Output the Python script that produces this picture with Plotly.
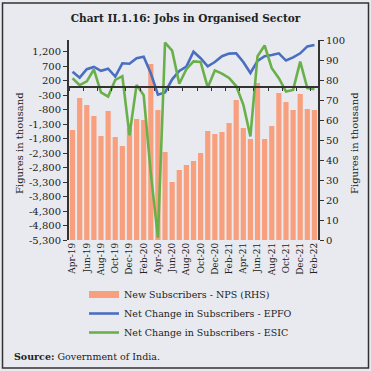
import plotly.graph_objects as go

months = ["Apr-19","May-19","Jun-19","Jul-19","Aug-19","Sep-19","Oct-19","Nov-19","Dec-19",
          "Jan-20","Feb-20","Mar-20","Apr-20","May-20","Jun-20","Jul-20","Aug-20","Sep-20",
          "Oct-20","Nov-20","Dec-20","Jan-21","Feb-21","Mar-21","Apr-21","May-21","Jun-21",
          "Jul-21","Aug-21","Sep-21","Oct-21","Nov-21","Dec-21","Jan-22","Feb-22"]

nps = [55, 71, 67.5, 62, 52, 64.5, 51.5, 47, 56, 60.5, 60, 88, 65, 44, 29, 35, 37.5, 39.5,
       43.5, 54.5, 53, 54, 58.5, 70, 56, 50.5, 78.5, 50.5, 57, 73.5, 69, 65, 73, 65.5, 65]

epfo = [517, 310, 600, 680, 545, 620, 345, 806, 790, 979, 1030, 460, -280, -200, 250, 540,
        690, 1206, 979, 700, 850, 1050, 1140, 1150, 850, 470, 890, 1050, 1092, 1150, 900,
        1010, 1150, 1390, 1437]

esic = [289, 50, 180, 590, -200, -345, 231, 360, -1680, 59, -300, -3000, -5220, 1520, 1240,
        100, 600, 870, 850, -30, 560, 450, 300, 20, -620, -1720, 1050, 1420, 634, 289, -170,
        -114, 862, -55, -90]

left_ticks = list(range(-5300, 1201, 500))
left_ticktext = [f"{v:,}" for v in left_ticks]
right_ticks = list(range(0, 101, 10))
left_range = [-5300, 1610]
right_range = [0, 100]

FONT = "DejaVu Serif"
BG = "#E8EAEF"
BAR = "#F8A07E"
BLUE = "#4A6FC0"
GREEN = "#6AB04A"
AX = "#333333"
TXT = "#222222"

PL, PR, PT, PB = 69.0, 318.0, 40.0, 240.0
def px_x(px):
    return (px - PL) / (PR - PL)
def px_y(py):
    return (PB - py) / (PB - PT)

zero_frac = (0 - left_range[0]) / (left_range[1] - left_range[0])

fig = go.Figure()
fig.add_trace(go.Bar(x=months, y=nps, marker=dict(color=BAR, line=dict(width=0)),
                     name="New Subscribers - NPS (RHS)", showlegend=False,
                     xaxis="x", yaxis="y"))
fig.add_trace(go.Scatter(x=[None], y=[None], mode="lines", line=dict(color=BAR, width=7),
                         name="New Subscribers - NPS (RHS)", legendgroup="a",
                         xaxis="x2", yaxis="y2"))
fig.add_trace(go.Scatter(x=months, y=epfo, mode="lines", line=dict(color=BLUE, width=2.6),
                         name="Net Change in Subscribers - EPFO", legendgroup="b",
                         xaxis="x2", yaxis="y2"))
fig.add_trace(go.Scatter(x=months, y=esic, mode="lines", line=dict(color=GREEN, width=2.6),
                         name="Net Change in Subscribers - ESIC", legendgroup="c",
                         xaxis="x2", yaxis="y2"))

fig.update_layout(
    width=371, height=371,
    margin=dict(l=PL, r=371 - PR, t=PT, b=371 - PB),
    paper_bgcolor=BG, plot_bgcolor=BG,
    font=dict(family=FONT, size=10, color=TXT),
    bargap=0.27,
    showlegend=True,
    title=dict(text="<b>Chart II.1.16: Jobs in Organised Sector</b>",
               font=dict(family=FONT, size=10.5, color=TXT),
               x=0.5, xref="container", xanchor="center",
               y=1 - 18 / 371, yref="container", yanchor="middle"),
    xaxis=dict(type="category", showline=False, ticks="", showgrid=False,
               tickangle=-90, dtick=2, tick0=0,
               tickfont=dict(family=FONT, size=9, color=TXT),
               range=[-0.5, len(months) - 0.5]),
    xaxis2=dict(type="category", overlaying="x", anchor="free", position=zero_frac,
                showline=True, linecolor=AX, linewidth=2, ticks="outside", ticklen=3,
                tickcolor=AX, tickwidth=1, tickson="boundaries", dtick=2, tick0=0,
                showticklabels=False, showgrid=False, matches="x",
                range=[-0.5, len(months) - 0.5]),
    yaxis=dict(side="right", range=right_range, tickvals=right_ticks,
               showline=True, linecolor=AX, linewidth=2, ticks="outside", ticklen=4,
               tickcolor=AX, showgrid=False, zeroline=False,
               tickfont=dict(family=FONT, size=10, color=TXT)),
    yaxis2=dict(side="left", overlaying="y", anchor="x", range=left_range,
                tickvals=left_ticks, ticktext=left_ticktext,
                showline=True, linecolor=AX, linewidth=2, ticks="outside", ticklen=4,
                tickcolor=AX, showgrid=False, zeroline=False,
                tickfont=dict(family=FONT, size=10, color=TXT)),
    legend=dict(x=px_x(84), y=px_y(280), xanchor="left", yanchor="top",
                orientation="v", bgcolor="rgba(0,0,0,0)", traceorder="grouped",
                tracegroupgap=0, itemwidth=30,
                font=dict(family=FONT, size=9.5, color=TXT)),
)

fig.add_annotation(text="Figures in thousand", textangle=-90, xref="paper", yref="paper",
                   x=px_x(19), y=px_y(143), xanchor="center", yanchor="middle",
                   showarrow=False, font=dict(family=FONT, size=10, color=TXT))
fig.add_annotation(text="Figures in thousand", textangle=-90, xref="paper", yref="paper",
                   x=px_x(354), y=px_y(143), xanchor="center", yanchor="middle",
                   showarrow=False, font=dict(family=FONT, size=10, color=TXT))
fig.add_annotation(text="<b>Source:</b> Government of India.", xref="paper", yref="paper",
                   x=px_x(12), y=px_y(356), xanchor="left", yanchor="middle", showarrow=False,
                   font=dict(family=FONT, size=9.5, color=TXT))
fig.add_shape(type="rect", xref="paper", yref="paper",
              x0=px_x(2.5), x1=px_x(368.5), y0=px_y(368), y1=px_y(3),
              line=dict(color="#333333", width=1.5), fillcolor="rgba(0,0,0,0)", layer="below")

fig.write_html("out.html",
               config={"displayModeBar": False},
               post_script="document.body.style.margin='0';document.body.style.padding='0';"
                           "document.body.style.overflow='hidden';")
